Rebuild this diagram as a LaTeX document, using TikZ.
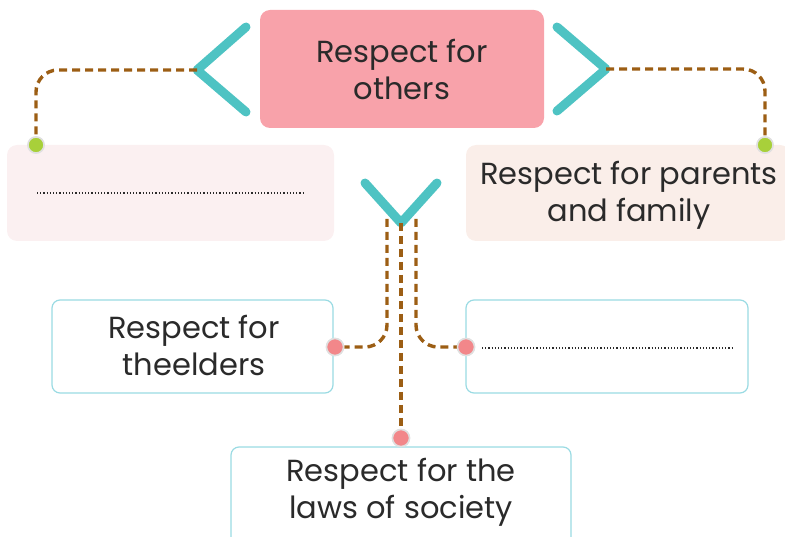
\documentclass[tikz,border=0pt]{standalone}
\usepackage{fontspec}
\setmainfont{Poppins}
\definecolor{topPink}{HTML}{F8A2AA}
\definecolor{chev}{HTML}{4EC3C3}
\definecolor{dashBrown}{HTML}{9C5E14}
\definecolor{greenDot}{HTML}{A8D03A}
\definecolor{redDot}{HTML}{F2878A}
\definecolor{boxLine}{HTML}{9ADBE3}
\definecolor{leftFill}{HTML}{FBF0F1}
\definecolor{rightFill}{HTML}{FAEEE9}
\definecolor{txt}{HTML}{2A2A2A}
\begin{document}
\begin{tikzpicture}[x=1pt,y=-1pt,
  boxtext/.style={align=center,text=txt,font=\fontsize{30.5}{37}\selectfont,inner sep=0pt},
  chevron/.style={draw=chev,line width=9pt,line cap=round,line join=round},
  conn/.style={draw=dashBrown,line width=3.4pt,dash pattern=on 8pt off 5pt,rounded corners=22pt},
  dotg/.style={circle,fill=greenDot,draw=black!12,line width=1.5pt,minimum size=16pt,inner sep=0pt},
  dotr/.style={circle,fill=redDot,draw=black!12,line width=1.5pt,minimum size=17pt,inner sep=0pt},
  outline/.style={draw=boxLine,line width=1.2pt,fill=white,rounded corners=8pt,inner sep=0pt},
  filled/.style={rounded corners=10pt,inner sep=0pt}
]
\useasboundingbox (0,0) rectangle (785,537);
% boxes
\node[filled,fill=topPink,minimum width=284pt,minimum height=118pt] (top) at (402,69) {};
\node[filled,fill=leftFill,minimum width=327pt,minimum height=96pt] (left) at (170.5,193) {};
\node[filled,fill=rightFill,minimum width=324pt,minimum height=96pt] (right) at (628,193) {};
\node[outline,minimum width=281pt,minimum height=93pt] (elders) at (192.5,346.5) {};
\node[outline,minimum width=282pt,minimum height=93pt] (blank) at (607,346.5) {};
\node[outline,minimum width=340pt,minimum height=100pt] (laws) at (401,497) {};
% texts (base = baseline of last line)
\node[boxtext,anchor=base] (toptext) at (402,100) {Respect for\\others};
\node[boxtext,anchor=base] (righttext) at (629,222) {Respect for parents\\and family};
\node[boxtext,anchor=base] (elderstext) at (194,376) {Respect for\\theelders};
\node[boxtext,anchor=base] (lawstext) at (401,518) {Respect for the\\laws of society};
% dotted answer lines
\draw[dotted,line width=1.2pt,txt] (37,193) -- (305,193);
\draw[dotted,line width=1.2pt,txt] (482,348) -- (733,348);
% chevrons
\coordinate (tipL) at (197,70);
\coordinate (tipR) at (606,69);
\coordinate (tipD) at (401,223);
\draw[chevron] (246,27) -- (tipL) -- (246,112);
\draw[chevron] (557,27) -- (tipR) -- (557,111);
\draw[chevron] (365,183) -- (tipD) -- (437,183);
% dots
\node[dotg] (gL) at (36,145) {};
\node[dotg] (gR) at (765,145) {};
\node[dotr] (rL) at (335,347) {};
\node[dotr] (rR) at (466,347) {};
\node[dotr] (rD) at (401,438) {};
\coordinate (dL) at (387,219);
\coordinate (dR) at (416,219);
% connectors
\draw[conn] (tipL) -| (gL);
\draw[conn] (tipR) -| (gR);
\draw[conn] (dL) |- (rL);
\draw[conn] (dR) |- (rR);
\draw[conn] (tipD) -- (rD);
% dots on top
\node[dotg] at (gL) {};
\node[dotg] at (gR) {};
\node[dotr] at (rL) {};
\node[dotr] at (rR) {};
\node[dotr] at (rD) {};
\end{tikzpicture}
\end{document}
